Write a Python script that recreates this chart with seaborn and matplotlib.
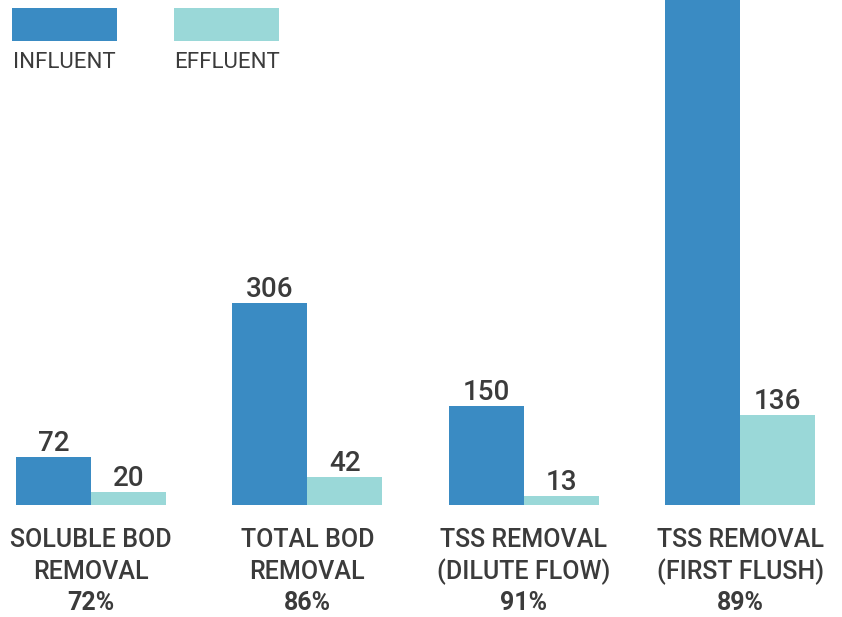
import pandas as pd
import matplotlib.pyplot as plt
import seaborn as sns
from matplotlib.patches import Rectangle

# Data (mg/L); the first-flush influent bar runs off the top
categories = ["SOLUBLE BOD\nREMOVAL", "TOTAL BOD\nREMOVAL",
              "TSS REMOVAL\n(DILUTE FLOW)", "TSS REMOVAL\n(FIRST FLUSH)"]
removal = ["72%", "86%", "91%", "89%"]
influent = [72, 306, 150, 1236]
effluent = [20, 42, 13, 136]

df = pd.DataFrame({
    "category": categories * 2,
    "stream": ["INFLUENT"] * 4 + ["EFFLUENT"] * 4,
    "value": influent + effluent,
})

colors = {"INFLUENT": "#3a8bc3", "EFFLUENT": "#9ad8d8"}
text_color = "#3b3b3b"

sns.set_style("white")
plt.rcParams["font.family"] = ["Roboto", "DejaVu Sans"]

fig = plt.figure(figsize=(8.42, 6.17), dpi=100)
ax = fig.add_axes([0, 112 / 617, 1, 505 / 617])

sns.barplot(data=df, x="category", y="value", hue="stream", palette=colors,
            width=0.693, saturation=1, legend=False, linewidth=0, ax=ax)

# value labels on top of bars
for container in ax.containers:
    ax.bar_label(container, fmt="%d", padding=0, fontsize=20,
                 fontweight="medium", color=text_color)

ax.set_xlim(-0.42, 3.47)
ax.set_ylim(0, 765)
ax.set_xlabel("")
ax.set_ylabel("")
ax.set_xticks([])
ax.set_yticks([])
sns.despine(ax=ax, left=True, bottom=True)

# category labels with bold removal percentage
trans = ax.get_xaxis_transform()
for i, (cat, pct) in enumerate(zip(categories, removal)):
    line1, line2 = cat.split("\n")
    ax.text(i, (505 - 540) / 505, line1, transform=trans, ha="center", va="center",
            fontsize=18, fontweight="medium", color=text_color, clip_on=False)
    ax.text(i, (505 - 572) / 505, line2, transform=trans, ha="center", va="center",
            fontsize=18, fontweight="medium", color=text_color, clip_on=False)
    ax.text(i, (505 - 603) / 505, pct, transform=trans, ha="center", va="center",
            fontsize=18, fontweight="bold", color=text_color, clip_on=False)

# legend: swatch with label underneath
for name, x0, xc in [("INFLUENT", 12, 64), ("EFFLUENT", 174, 227)]:
    fig.add_artist(Rectangle((x0 / 842, (617 - 41) / 617), 105 / 842, 33 / 617,
                             transform=fig.transFigure, color=colors[name], lw=0))
    fig.text(xc / 842, (617 - 63) / 617, name, ha="center", va="center",
             fontsize=16, color=text_color)

plt.savefig("out.png", dpi=100)
